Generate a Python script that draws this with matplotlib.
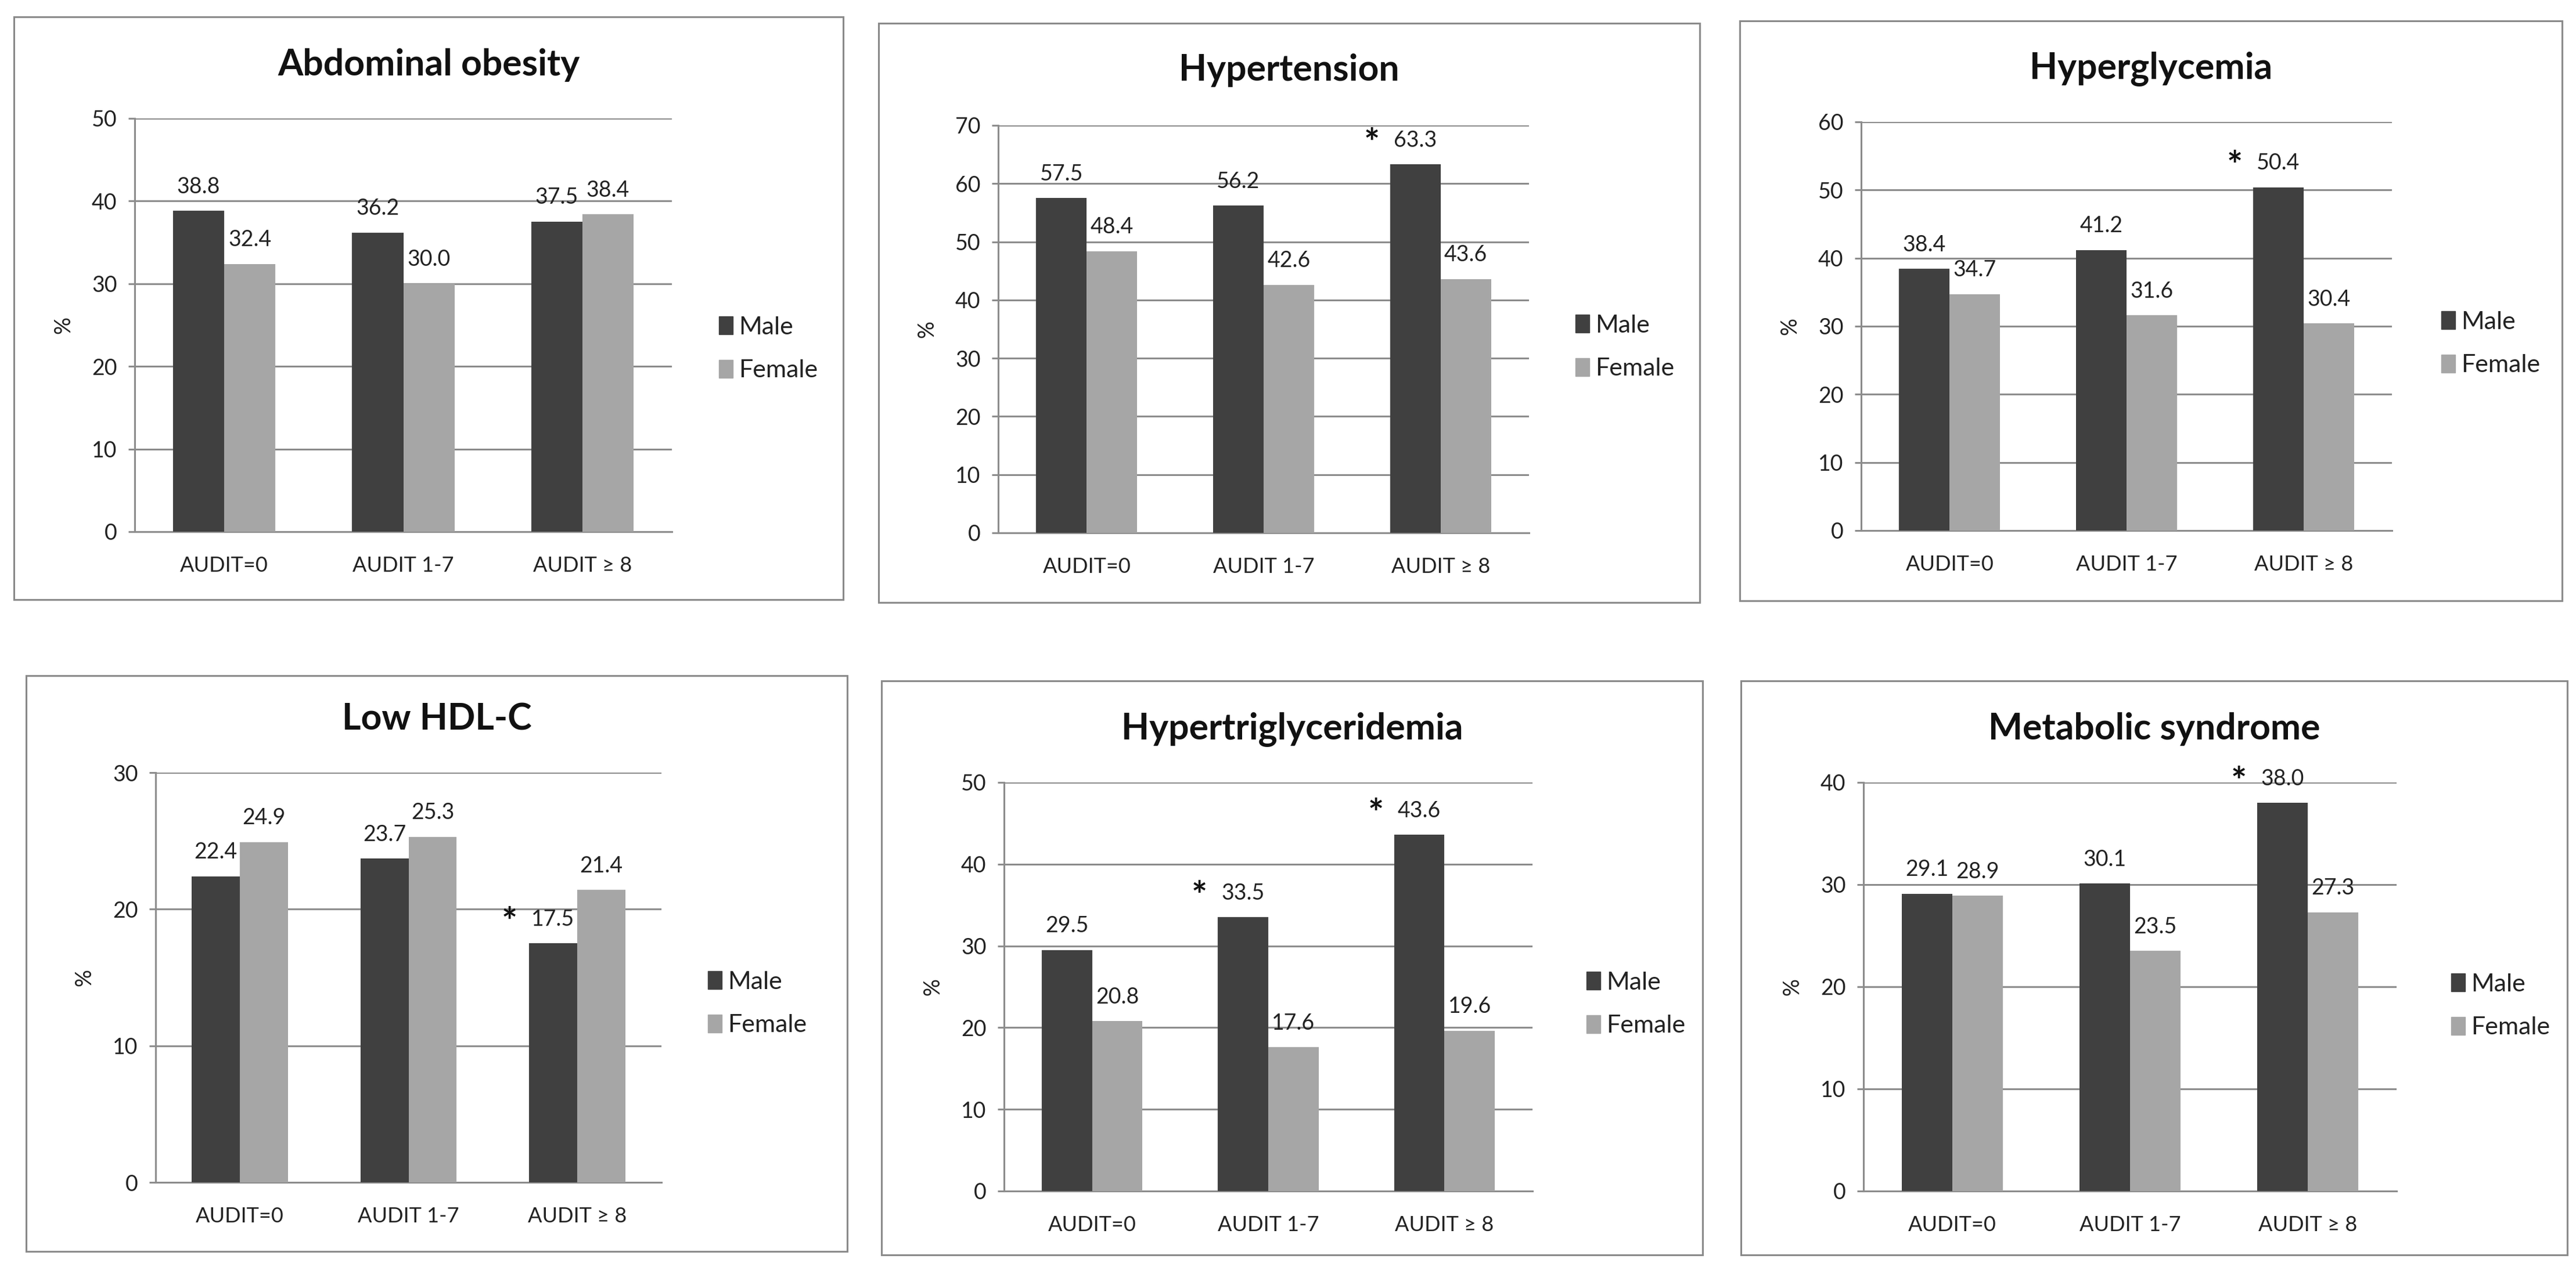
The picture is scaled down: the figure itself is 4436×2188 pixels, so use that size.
import matplotlib.pyplot as plt
from matplotlib.patches import Rectangle, Patch

plt.rcParams['font.family'] = ['Lato', 'DejaVu Sans']

groups = ["AUDIT=0", "AUDIT 1-7", "AUDIT \u2265 8"]
titles = ["Abdominal obesity", "Hypertension", "Hyperglycemia",
          "Low HDL-C", "Hypertriglyceridemia", "Metabolic syndrome"]

male_abd = [38.8, 36.2, 37.5]
female_abd = [32.4, 30.0, 38.4]
male_htn = [57.5, 56.2, 63.3]
female_htn = [48.4, 42.6, 43.6]
male_glu = [38.4, 41.2, 50.4]
female_glu = [34.7, 31.6, 30.4]
male_hdl = [22.4, 23.7, 17.5]
female_hdl = [24.9, 25.3, 21.4]
male_tg = [29.5, 33.5, 43.6]
female_tg = [20.8, 17.6, 19.6]
male_mets = [29.1, 30.1, 38.0]
female_mets = [28.9, 23.5, 27.3]

# significant (male) marked with *
star_abd = [False, False, False]
star_htn = [False, False, True]
star_glu = [False, False, True]
star_hdl = [False, False, True]
star_tg = [False, True, True]
star_mets = [False, False, True]

ymaxs = [50, 70, 60, 30, 50, 40]
ysteps = [10, 10, 10, 10, 10, 10]

males = [male_abd, male_htn, male_glu, male_hdl, male_tg, male_mets]
females = [female_abd, female_htn, female_glu, female_hdl, female_tg, female_mets]
stars = [star_abd, star_htn, star_glu, star_hdl, star_tg, star_mets]

# layout in pixels: box (x0, y0, x1, y1), plot area (x0, y0, x1, y1), legend x, legend mid y, title y
W, H = 4436, 2188
boxes = [(24, 29, 1452, 1033), (1513, 40, 2927, 1038), (2996, 36, 4412, 1035),
         (45, 1164, 1459, 2156), (1518, 1173, 2932, 2162), (2998, 1173, 4421, 2162)]
plots = [(232, 204, 1157, 916), (1719, 216, 2633, 918), (3205, 210, 4119, 914),
         (268, 1331, 1139, 2037), (1729, 1348, 2639, 2052), (3209, 1348, 4127, 2052)]
leg_pos = [(1238, 601), (2713, 598), (4204, 592), (1219, 1729), (2732, 1730), (4221, 1733)]
title_y = [112, 121, 118, 1239, 1256, 1256]

male_col = "#404040"
female_col = "#a6a6a6"
grid_col = "#8c8c8c"


def fx(p):
    return p / W


def fy(p):
    return 1 - p / H


fig = plt.figure(figsize=(W / 100, H / 100), dpi=100)

for i in range(6):
    bx = boxes[i]
    fig.add_artist(Rectangle((fx(bx[0]), fy(bx[3])), fx(bx[2] - bx[0]), (bx[3] - bx[1]) / H,
                             transform=fig.transFigure, fill=False, edgecolor="#8a8a8a", lw=2.2))
    p = plots[i]
    ax = fig.add_axes([fx(p[0]), fy(p[3]), fx(p[2] - p[0]), (p[3] - p[1]) / H])
    x = list(range(len(groups)))
    w = 1 / 1.75 / 2
    xm = [v - w / 2 for v in x]
    xf = [v + w / 2 for v in x]
    ax.bar(xm, males[i], width=w, color=male_col, zorder=3)
    ax.bar(xf, females[i], width=w, color=female_col, zorder=3)
    ax.set_xlim(-0.5, 2.5)
    ax.set_ylim(0, ymaxs[i])
    ax.set_yticks(range(0, ymaxs[i] + 1, ysteps[i]))
    ax.yaxis.grid(True, color=grid_col, lw=2.2, zorder=0)
    ax.set_axisbelow(True)
    for s in ["top", "right"]:
        ax.spines[s].set_visible(False)
    for s in ["left", "bottom"]:
        ax.spines[s].set_color(grid_col)
        ax.spines[s].set_linewidth(2.2)
    ax.set_xticks(x)
    ax.set_xticklabels(groups)
    ax.tick_params(axis="x", length=0, pad=30, labelsize=26, colors="#222222")
    ax.tick_params(axis="y", length=8, width=2.2, color=grid_col, pad=14, labelsize=27, labelcolor="#222222")

    for j in range(3):
        ax.annotate(f"{males[i][j]:.1f}", (xm[j], males[i][j]), xytext=(0, 17),
                    textcoords="offset points", ha="center", va="bottom", fontsize=27, color="#222222")
        ax.annotate(f"{females[i][j]:.1f}", (xf[j], females[i][j]), xytext=(0, 17),
                    textcoords="offset points", ha="center", va="bottom", fontsize=27, color="#222222")
        if stars[i][j]:
            ax.annotate("*", (xm[j], males[i][j]), xytext=(-54, 4),
                        textcoords="offset points", ha="center", va="bottom", fontsize=46,
                        fontweight="bold", color="#111111")

    fig.text(fx(p[0] - 123), fy((p[1] + p[3]) / 2), "%", rotation=90, ha="center", va="center",
             fontsize=27, color="#222222")
    fig.text(fx((bx[0] + bx[2]) / 2), fy(title_y[i]), titles[i], ha="center", va="center",
             fontsize=45, fontweight="bold", color="#111111")

    handles = [Patch(color=male_col), Patch(color=female_col)]
    lp = leg_pos[i]
    ax.legend(handles, ["Male", "Female"], loc="center left", bbox_to_anchor=(fx(lp[0]), fy(lp[1])),
              bbox_transform=fig.transFigure, frameon=False, fontsize=31, handlelength=0.55,
              handleheight=0.75, handletextpad=0.25, labelspacing=0.85, borderpad=0, borderaxespad=0,
              labelcolor="#222222")

fig.savefig("out.png", dpi=100, facecolor="white")
